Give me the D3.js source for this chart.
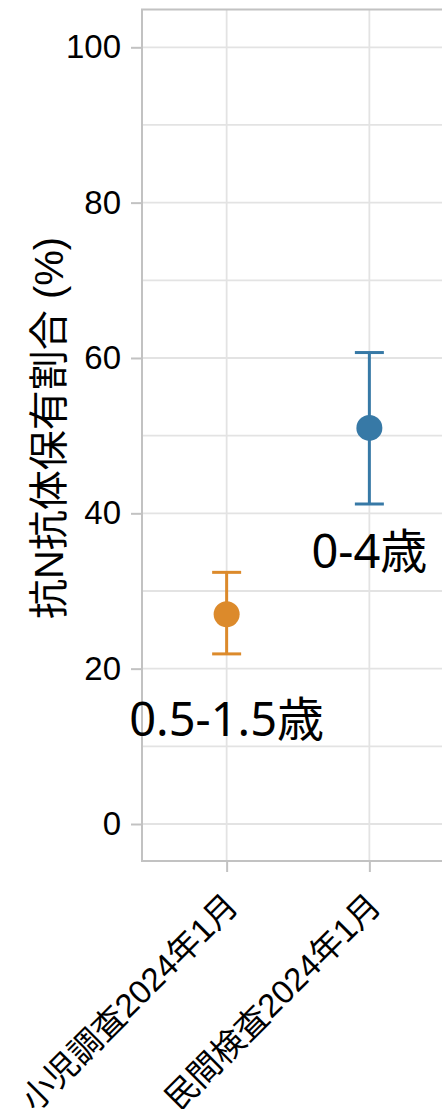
<!DOCTYPE html>
<html>
<head>
<meta charset="utf-8">
<script src="https://cdn.jsdelivr.net/npm/d3@7"></script>
<style>
  html, body { margin: 0; padding: 0; background: #fff; overflow: hidden; }
  svg { display: block; }
</style>
</head>
<body>
<svg id="chart" width="442" height="1109"></svg>
<script>
// Survey sources (x categories)
const categories = ["小児調査2024年1月", "民間検査2024年1月"];
// Age group shown next to each estimate
const groups = ["0.5-1.5歳", "0-4歳"];
// Estimated share with anti-N antibodies (%) and its interval
const estimate = [27.0, 51.0];
const lower = [21.9, 41.2];
const upper = [32.4, 60.7];
// Where each group label sits, in data units (%)
const labelAt = [11.3, 33.0];
const colors = ["#dc8a2b", "#3779a6"];
const yTicks = [0, 20, 40, 60, 80, 100];
const yMinor = [10, 30, 50, 70, 90];
const yTitle = "抗N抗体保有割合 (%)";

const svg = d3.select("#chart");
const latin = "'Liberation Sans', Arial, 'Noto Sans CJK JP', sans-serif";
const labelFont = "'Noto Sans', 'Noto Sans CJK JP', sans-serif";

const plotLeft = 142, plotTop = 9.5, plotBottom = 861, plotRight = 454;
const x = d3.scalePoint().domain(categories).range([plotLeft, plotRight]).padding(0.593);
const y = d3.scaleLinear().domain([0, 100]).range([824, 47.3]);

const gridColor = "#e3e3e3";
const axisColor = "#c2c2c2";

// Grid lines
const grid = svg.append("g");
grid.selectAll("line.h").data(yTicks.concat(yMinor)).join("line")
  .attr("class", "h")
  .attr("x1", plotLeft).attr("x2", plotRight)
  .attr("y1", d => y(d)).attr("y2", d => y(d))
  .attr("stroke", gridColor).attr("stroke-width", 1.8);
grid.selectAll("line.v").data(categories).join("line")
  .attr("class", "v")
  .attr("x1", d => x(d)).attr("x2", d => x(d))
  .attr("y1", plotTop).attr("y2", plotBottom)
  .attr("stroke", gridColor).attr("stroke-width", 1.8);

// Frame
svg.append("rect")
  .attr("x", plotLeft).attr("y", plotTop)
  .attr("width", plotRight - plotLeft).attr("height", plotBottom - plotTop)
  .attr("fill", "none").attr("stroke", axisColor).attr("stroke-width", 2);

// Y axis
const yAxis = svg.append("g")
  .attr("transform", `translate(${plotLeft},0)`)
  .call(d3.axisLeft(y).tickValues(yTicks).tickSize(11).tickPadding(10));
yAxis.select(".domain").remove();
yAxis.selectAll(".tick line").attr("stroke", axisColor).attr("stroke-width", 2);
yAxis.selectAll(".tick text")
  .attr("fill", "#000")
  .style("font-family", latin).style("font-size", "33px");

// X axis
const xAxis = svg.append("g")
  .attr("transform", `translate(0,${plotBottom})`)
  .call(d3.axisBottom(x).tickSize(11).tickPadding(0));
xAxis.select(".domain").remove();
xAxis.selectAll(".tick line").attr("stroke", axisColor).attr("stroke-width", 2);
xAxis.selectAll(".tick text")
  .attr("fill", "#000")
  .style("font-family", latin).style("font-size", "33px")
  .attr("text-anchor", "end")
  .attr("dy", null)
  .attr("transform", "translate(13,47) rotate(-45)")
  .attr("y", 0).attr("x", 0);

// Y title
svg.append("text")
  .attr("transform", `translate(63,428) rotate(-90)`)
  .attr("text-anchor", "middle")
  .style("font-family", latin).style("font-size", "40px")
  .attr("fill", "#000")
  .text(yTitle);

// Error bars and points
const idx = d3.range(categories.length);
const marks = svg.append("g");
const capHalf = 14.5;
marks.selectAll("line.err").data(idx).join("line")
  .attr("class", "err")
  .attr("x1", i => x(categories[i])).attr("x2", i => x(categories[i]))
  .attr("y1", i => y(lower[i])).attr("y2", i => y(upper[i]))
  .attr("stroke", i => colors[i]).attr("stroke-width", 3);
marks.selectAll("line.capTop").data(idx).join("line")
  .attr("class", "capTop")
  .attr("x1", i => x(categories[i]) - capHalf).attr("x2", i => x(categories[i]) + capHalf)
  .attr("y1", i => y(upper[i])).attr("y2", i => y(upper[i]))
  .attr("stroke", i => colors[i]).attr("stroke-width", 3);
marks.selectAll("line.capBot").data(idx).join("line")
  .attr("class", "capBot")
  .attr("x1", i => x(categories[i]) - capHalf).attr("x2", i => x(categories[i]) + capHalf)
  .attr("y1", i => y(lower[i])).attr("y2", i => y(lower[i]))
  .attr("stroke", i => colors[i]).attr("stroke-width", 3);
marks.selectAll("circle").data(idx).join("circle")
  .attr("cx", i => x(categories[i])).attr("cy", i => y(estimate[i]))
  .attr("r", 13).attr("fill", i => colors[i]);

// Group labels
svg.append("g").selectAll("text").data(idx).join("text")
  .attr("x", i => x(categories[i]))
  .attr("y", i => y(labelAt[i]))
  .attr("text-anchor", "middle")
  .style("font-family", labelFont).style("font-size", "47px")
  .attr("fill", "#000")
  .text(i => groups[i]);
</script>
</body>
</html>
